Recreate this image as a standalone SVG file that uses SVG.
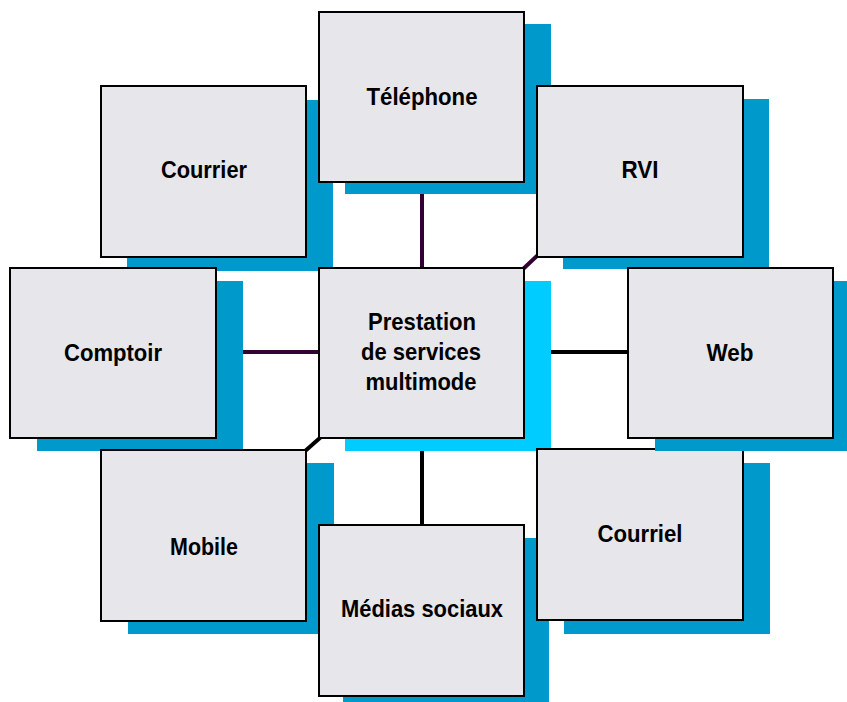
<svg xmlns="http://www.w3.org/2000/svg" width="847" height="702" viewBox="0 0 847 702">
<style>
.box{fill:#E6E6EB;stroke:#000;stroke-width:2}
.sh{fill:#0099CC}
.shc{fill:#00CCFF}
.t{font-family:"Liberation Sans",Arial,sans-serif;font-weight:bold;font-size:24px;fill:#000;text-anchor:middle}
.cp{stroke:#330033;stroke-width:4;fill:none}
.cb{stroke:#000;stroke-width:4;fill:none}
</style>
<rect width="847" height="702" fill="#fff"/>
<g id="connectors">
<line class="cp" x1="422" y1="190" x2="422" y2="270"/>
<line class="cp" x1="539" y1="254" x2="522" y2="270"/>
<line class="cp" x1="240" y1="352" x2="320" y2="352"/>
<line class="cb" x1="548" y1="352" x2="630" y2="352"/>
<line class="cb" x1="321" y1="437" x2="304" y2="452"/>
<line class="cb" x1="422" y1="448" x2="422" y2="526"/>
</g>
<g id="courrier">
<rect class="sh" x="127" y="100" width="206" height="171"/>
<rect class="box" x="101" y="86" width="205" height="171"/>
<text class="t" x="204" y="178" textLength="86" lengthAdjust="spacingAndGlyphs">Courrier</text>
</g>
<g id="telephone">
<rect class="sh" x="345" y="24" width="206" height="170"/>
<rect class="box" x="319" y="12" width="205" height="170"/>
<text class="t" x="422" y="105" textLength="111" lengthAdjust="spacingAndGlyphs">Téléphone</text>
</g>
<g id="rvi">
<rect class="sh" x="563" y="99" width="206" height="170"/>
<rect class="box" x="537" y="86" width="206" height="171"/>
<text class="t" x="640" y="178" textLength="37" lengthAdjust="spacingAndGlyphs">RVI</text>
</g>
<g id="comptoir">
<rect class="sh" x="37" y="281" width="206" height="170"/>
<rect class="box" x="10" y="268" width="206" height="170"/>
<text class="t" x="113" y="361" textLength="98" lengthAdjust="spacingAndGlyphs">Comptoir</text>
</g>
<g id="centre">
<rect class="shc" x="345" y="281" width="206" height="170"/>
<rect class="box" x="319" y="268" width="205" height="170"/>
<text class="t" x="422" y="330" textLength="108" lengthAdjust="spacingAndGlyphs">Prestation</text>
<text class="t" x="421" y="360" textLength="120" lengthAdjust="spacingAndGlyphs">de services</text>
<text class="t" x="421" y="390" textLength="111" lengthAdjust="spacingAndGlyphs">multimode</text>
</g>
<g id="mobile">
<rect class="sh" x="128" y="463" width="206" height="171"/>
<rect class="box" x="101" y="450" width="205" height="171"/>
<text class="t" x="204" y="555" textLength="68" lengthAdjust="spacingAndGlyphs">Mobile</text>
</g>
<g id="medias">
<rect class="sh" x="343" y="538" width="206" height="164"/>
<rect class="box" x="319" y="525" width="205" height="171"/>
<text class="t" x="422" y="617" textLength="162" lengthAdjust="spacingAndGlyphs">Médias sociaux</text>
</g>
<g id="courriel">
<rect class="sh" x="564" y="463" width="206" height="171"/>
<rect class="box" x="537" y="449" width="206" height="171"/>
<text class="t" x="640" y="542" textLength="85" lengthAdjust="spacingAndGlyphs">Courriel</text>
</g>
<g id="web">
<rect class="sh" x="655" y="281" width="192" height="170"/>
<rect class="box" x="628" y="268" width="205" height="170"/>
<text class="t" x="730" y="361" textLength="47" lengthAdjust="spacingAndGlyphs">Web</text>
</g>
</svg>
